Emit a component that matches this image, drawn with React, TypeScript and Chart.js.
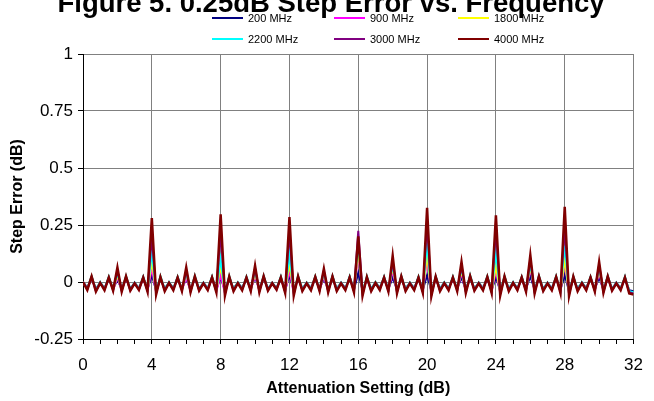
import React, { useEffect, useRef } from 'react';
import { Chart, registerables } from 'chart.js';

Chart.register(...registerables);

const TITLE = 'Figure 5. 0.25dB Step Error vs. Frequency';
const X_TITLE = 'Attenuation Setting (dB)';
const Y_TITLE = 'Step Error (dB)';
const SERIES_LABELS = ['200 MHz', '900 MHz', '1800 MHz', '2200 MHz', '3000 MHz', '4000 MHz'];
const SERIES_COLORS = ['#000080', '#FF00FF', '#FFFF00', '#00FFFF', '#800080', '#800000'];

// attenuation settings: 0 .. 32 dB in 0.25 dB steps (x categories)
const ATTEN = Array.from({ length: 129 }, (_, i) => i * 0.25);

const MHZ_200 = [
  0, -0.025, 0.015, -0.03, -0.004, -0.026, 0.014, -0.028, 0.01, -0.03, 0.015, -0.028, -0.005, -0.026, 0.014, -0.03,
  0.03, -0.035, 0.015, -0.028, -0.004, -0.026, 0.014, -0.028, 0.015, -0.031, 0.016, -0.028, -0.005, -0.026, 0.014, -0.032,
  0.02, -0.036, 0.015, -0.028, -0.004, -0.026, 0.014, -0.028, 0.02, -0.031, 0.016, -0.028, -0.005, -0.025, 0.014, -0.034,
  0.03, -0.036, 0.016, -0.028, -0.005, -0.026, 0.015, -0.028, 0.015, -0.031, 0.016, -0.028, -0.005, -0.026, 0.015, -0.032,
  0.04, -0.037, 0.014, -0.028, -0.004, -0.025, 0.014, -0.03, 0.02, -0.033, 0.016, -0.028, -0.005, -0.026, 0.014, -0.034,
  0.03, -0.038, 0.015, -0.028, -0.004, -0.026, 0.014, -0.028, 0.02, -0.033, 0.017, -0.028, -0.005, -0.026, 0.015, -0.034,
  0.02, -0.037, 0.016, -0.028, -0.004, -0.026, 0.014, -0.03, 0.025, -0.033, 0.016, -0.028, -0.005, -0.026, 0.015, -0.034,
  0.03, -0.038, 0.015, -0.028, -0.004, -0.026, 0.014, -0.03, 0.02, -0.033, 0.016, -0.028, -0.005, -0.026, 0.014, -0.036,
  -0.04,
];

const MHZ_900 = [
  0, -0.032, 0.022, -0.038, -0.003, -0.033, 0.02, -0.036, 0.02, -0.038, 0.022, -0.036, -0.004, -0.033, 0.02, -0.038,
  0.06, -0.046, 0.022, -0.036, -0.003, -0.033, 0.02, -0.036, 0.02, -0.039, 0.023, -0.036, -0.004, -0.033, 0.02, -0.04,
  0.03, -0.048, 0.022, -0.036, -0.003, -0.033, 0.02, -0.036, 0.03, -0.039, 0.023, -0.036, -0.004, -0.032, 0.02, -0.042,
  0.05, -0.048, 0.023, -0.036, -0.004, -0.033, 0.022, -0.036, 0.025, -0.039, 0.023, -0.036, -0.004, -0.033, 0.022, -0.04,
  0.12, -0.05, 0.021, -0.036, -0.003, -0.032, 0.02, -0.038, 0.05, -0.042, 0.023, -0.036, -0.004, -0.033, 0.02, -0.042,
  0.1, -0.052, 0.022, -0.036, -0.003, -0.033, 0.02, -0.036, 0.04, -0.042, 0.025, -0.036, -0.004, -0.033, 0.022, -0.042,
  0.05, -0.049, 0.023, -0.036, -0.003, -0.033, 0.02, -0.038, 0.06, -0.042, 0.023, -0.036, -0.004, -0.033, 0.022, -0.042,
  0.09, -0.052, 0.022, -0.036, -0.003, -0.033, 0.02, -0.038, 0.045, -0.042, 0.023, -0.036, -0.004, -0.033, 0.02, -0.044,
  -0.048,
];

const MHZ_1800 = [
  0, -0.03, 0.024, -0.036, -0.002, -0.031, 0.022, -0.034, 0.03, -0.036, 0.024, -0.034, -0.003, -0.031, 0.022, -0.036,
  0.09, -0.044, 0.024, -0.034, -0.002, -0.031, 0.022, -0.034, 0.035, -0.037, 0.025, -0.034, -0.003, -0.031, 0.022, -0.038,
  0.07, -0.046, 0.024, -0.034, -0.002, -0.031, 0.022, -0.034, 0.04, -0.037, 0.025, -0.034, -0.003, -0.03, 0.022, -0.04,
  0.08, -0.046, 0.025, -0.034, -0.003, -0.031, 0.024, -0.034, 0.035, -0.037, 0.025, -0.034, -0.003, -0.031, 0.024, -0.038,
  0.14, -0.048, 0.023, -0.034, -0.002, -0.03, 0.022, -0.036, 0.065, -0.04, 0.025, -0.034, -0.003, -0.031, 0.022, -0.04,
  0.12, -0.05, 0.024, -0.034, -0.002, -0.031, 0.022, -0.034, 0.05, -0.04, 0.027, -0.034, -0.003, -0.031, 0.024, -0.04,
  0.07, -0.047, 0.025, -0.034, -0.002, -0.031, 0.022, -0.036, 0.07, -0.04, 0.025, -0.034, -0.003, -0.031, 0.024, -0.04,
  0.1, -0.05, 0.024, -0.034, -0.002, -0.031, 0.022, -0.036, 0.055, -0.04, 0.025, -0.034, -0.003, -0.031, 0.022, -0.042,
  -0.047,
];

const MHZ_2200 = [
  0, -0.028, 0.026, -0.034, 0, -0.03, 0.024, -0.032, 0.04, -0.034, 0.026, -0.032, -0.002, -0.03, 0.024, -0.034,
  0.13, -0.042, 0.026, -0.032, 0, -0.03, 0.024, -0.032, 0.04, -0.036, 0.028, -0.032, -0.002, -0.03, 0.024, -0.036,
  0.1, -0.044, 0.026, -0.032, -0.001, -0.03, 0.024, -0.032, 0.05, -0.036, 0.028, -0.032, -0.002, -0.029, 0.024, -0.038,
  0.12, -0.045, 0.027, -0.032, -0.002, -0.03, 0.026, -0.032, 0.04, -0.036, 0.028, -0.032, -0.002, -0.03, 0.025, -0.036,
  0.17, -0.046, 0.025, -0.032, 0, -0.029, 0.024, -0.034, 0.075, -0.038, 0.028, -0.032, -0.002, -0.03, 0.024, -0.038,
  0.17, -0.048, 0.026, -0.032, -0.001, -0.03, 0.024, -0.032, 0.06, -0.038, 0.03, -0.032, -0.002, -0.03, 0.026, -0.038,
  0.13, -0.045, 0.027, -0.032, 0, -0.03, 0.024, -0.034, 0.08, -0.038, 0.028, -0.032, -0.002, -0.03, 0.026, -0.038,
  0.16, -0.048, 0.026, -0.032, -0.001, -0.03, 0.024, -0.034, 0.065, -0.038, 0.028, -0.032, -0.002, -0.03, 0.024, -0.04,
  -0.045,
];

const MHZ_3000 = [
  0, -0.03, 0.022, -0.038, -0.003, -0.032, 0.02, -0.035, 0.05, -0.038, 0.022, -0.035, -0.004, -0.032, 0.02, -0.038,
  0.2, -0.048, 0.02, -0.036, -0.003, -0.032, 0.02, -0.036, 0.05, -0.04, 0.022, -0.035, -0.004, -0.032, 0.02, -0.04,
  0.22, -0.052, 0.022, -0.036, -0.004, -0.032, 0.02, -0.036, 0.06, -0.04, 0.024, -0.035, -0.004, -0.031, 0.02, -0.043,
  0.22, -0.052, 0.022, -0.036, -0.004, -0.032, 0.022, -0.036, 0.05, -0.04, 0.024, -0.036, -0.004, -0.032, 0.022, -0.04,
  0.225, -0.052, 0.02, -0.036, -0.003, -0.031, 0.02, -0.038, 0.09, -0.044, 0.024, -0.036, -0.004, -0.032, 0.02, -0.042,
  0.26, -0.055, 0.022, -0.036, -0.004, -0.032, 0.02, -0.036, 0.07, -0.042, 0.024, -0.035, -0.004, -0.032, 0.022, -0.043,
  0.23, -0.052, 0.022, -0.036, -0.003, -0.032, 0.02, -0.038, 0.1, -0.044, 0.024, -0.036, -0.004, -0.032, 0.022, -0.043,
  0.24, -0.055, 0.022, -0.036, -0.004, -0.032, 0.02, -0.038, 0.075, -0.042, 0.024, -0.035, -0.004, -0.032, 0.02, -0.045,
  -0.05,
];

const MHZ_4000 = [
  0, -0.035, 0.025, -0.042, -0.004, -0.036, 0.02, -0.038, 0.064, -0.042, 0.025, -0.038, -0.006, -0.035, 0.02, -0.042,
  0.28, -0.055, 0.022, -0.04, -0.004, -0.036, 0.02, -0.04, 0.064, -0.045, 0.025, -0.038, -0.006, -0.036, 0.02, -0.045,
  0.297, -0.06, 0.024, -0.04, -0.005, -0.036, 0.02, -0.04, 0.072, -0.045, 0.026, -0.038, -0.006, -0.034, 0.02, -0.048,
  0.285, -0.06, 0.025, -0.04, -0.006, -0.036, 0.022, -0.04, 0.058, -0.045, 0.025, -0.04, -0.006, -0.036, 0.02, -0.045,
  0.2, -0.06, 0.022, -0.04, -0.004, -0.035, 0.02, -0.042, 0.115, -0.05, 0.025, -0.04, -0.006, -0.036, 0.02, -0.047,
  0.325, -0.062, 0.024, -0.04, -0.005, -0.036, 0.02, -0.04, 0.088, -0.048, 0.026, -0.038, -0.006, -0.036, 0.022, -0.048,
  0.292, -0.06, 0.025, -0.04, -0.004, -0.036, 0.02, -0.042, 0.118, -0.05, 0.025, -0.04, -0.006, -0.036, 0.022, -0.048,
  0.33, -0.062, 0.024, -0.04, -0.005, -0.036, 0.02, -0.042, 0.088, -0.048, 0.025, -0.038, -0.006, -0.036, 0.02, -0.05,
  -0.055,
];

const SERIES_VALUES = [MHZ_200, MHZ_900, MHZ_1800, MHZ_2200, MHZ_3000, MHZ_4000];

const FONT = '"Liberation Sans", Arial, sans-serif';

const titleLegendPlugin = {
  id: 'titleLegend',
  afterDraw(chart: any) {
    const ctx = chart.ctx as CanvasRenderingContext2D;
    ctx.save();
    ctx.fillStyle = '#000';
    ctx.font = `bold 27.5px ${FONT}`;
    ctx.textAlign = 'center';
    ctx.textBaseline = 'alphabetic';
    ctx.fillText(TITLE, 331, 12);

    ctx.font = `11px ${FONT}`;
    ctx.textAlign = 'left';
    ctx.textBaseline = 'middle';
    const cols = [212, 334, 458];
    const rows = [18, 39];
    SERIES_LABELS.forEach((lab, i) => {
      const x = cols[i % 3];
      const y = rows[Math.floor(i / 3)];
      ctx.strokeStyle = SERIES_COLORS[i];
      ctx.lineWidth = 2;
      ctx.beginPath();
      ctx.moveTo(x, y);
      ctx.lineTo(x + 31, y);
      ctx.stroke();
      ctx.fillStyle = '#000';
      ctx.fillText(lab, x + 36, y + 1);
    });
    ctx.restore();
  },
};

export default function App() {
  const canvasRef = useRef<HTMLCanvasElement | null>(null);

  useEffect(() => {
    if (!canvasRef.current) return;
    const datasets = SERIES_LABELS.map((label, i) => ({
      label,
      data: ATTEN.map((x, j) => ({ x, y: SERIES_VALUES[i][j] })),
      borderColor: SERIES_COLORS[i],
      backgroundColor: SERIES_COLORS[i],
      borderWidth: i === SERIES_LABELS.length - 1 ? 2.5 : 2,
      pointRadius: 0,
      tension: 0,
      fill: false,
      order: SERIES_LABELS.length - 1 - i,
    }));

    const chart = new Chart(canvasRef.current, {
      type: 'line',
      data: { datasets },
      plugins: [titleLegendPlugin],
      options: {
        animation: false,
        responsive: true,
        maintainAspectRatio: false,
        layout: { padding: { left: 0, right: 15, top: 54, bottom: 0 } },
        plugins: {
          legend: { display: false },
          title: { display: false },
          tooltip: { enabled: false },
        },
        scales: {
          x: {
            type: 'linear',
            min: 0,
            max: 32,
            ticks: {
              stepSize: 1,
              autoSkip: false,
              maxRotation: 0,
              padding: 11,
              color: '#000',
              font: { family: FONT, size: 17 },
              callback: (v: any) => (Number(v) % 4 === 0 ? String(v) : ''),
            },
            grid: {
              color: (c: any) => (c.tick && c.tick.value % 4 === 0 ? '#808080' : 'rgba(0,0,0,0)'),
              tickColor: '#000',
              tickLength: 5,
              lineWidth: 1,
            },
            border: { display: true, color: '#000', width: 1 },
            title: {
              display: true,
              text: X_TITLE,
              color: '#000',
              font: { family: FONT, size: 16, weight: 'bold' },
              padding: { top: 0, bottom: 3 },
            },
            afterFit: (s: any) => {
              s.height = 62;
            },
          },
          y: {
            type: 'linear',
            min: -0.25,
            max: 1,
            ticks: {
              stepSize: 0.25,
              padding: 5,
              color: '#000',
              font: { family: FONT, size: 17 },
              callback: (v: any) => String(v),
            },
            grid: {
              color: '#808080',
              tickColor: '#000',
              tickLength: 5,
              lineWidth: 1,
            },
            border: { display: true, color: '#000', width: 1 },
            title: {
              display: true,
              text: Y_TITLE,
              color: '#000',
              font: { family: FONT, size: 16, weight: 'bold' },
              padding: { top: 8, bottom: 0 },
            },
            afterFit: (s: any) => {
              s.width = 83;
            },
          },
        },
      },
    });
    return () => chart.destroy();
  }, []);

  return (
    <div style={{ position: 'fixed', left: 0, top: 0, width: 654, height: 401, background: '#fff' }}>
      <canvas ref={canvasRef} />
    </div>
  );
}
